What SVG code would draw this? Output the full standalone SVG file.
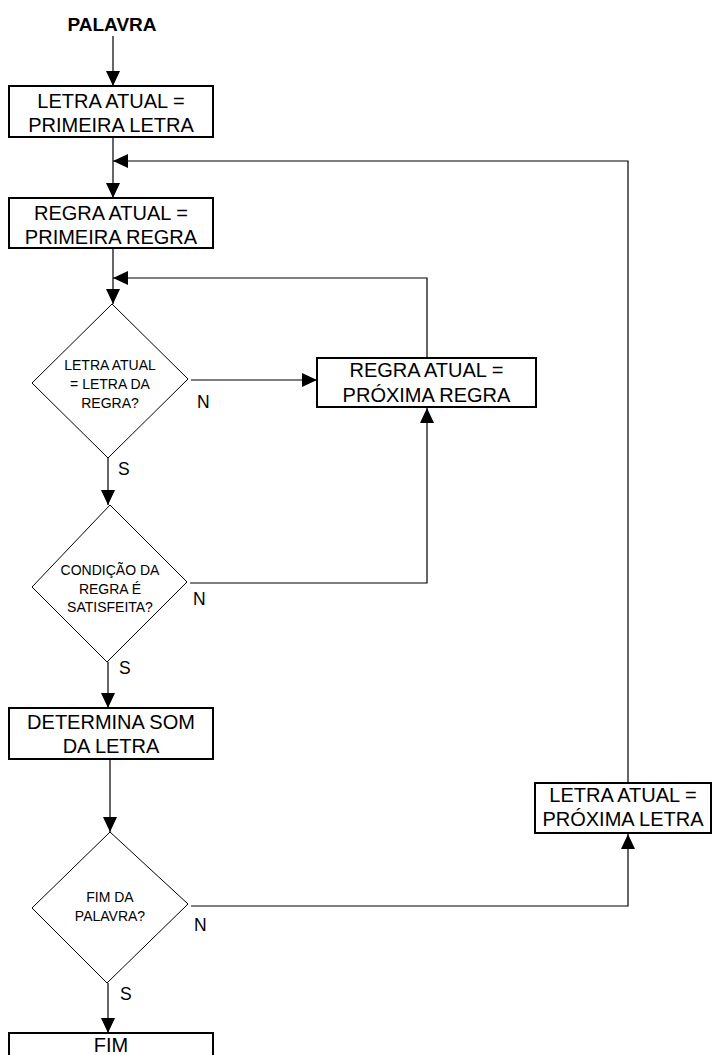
<svg xmlns="http://www.w3.org/2000/svg" width="713" height="1055" viewBox="0 0 713 1055">
<style>
.box{fill:#fff;stroke:#000;stroke-width:2}
.dia{fill:#fff;stroke:#000;stroke-width:1}
.ln{fill:none;stroke:#000;stroke-width:1.2}
.bt{font-family:"Liberation Sans",Arial,sans-serif;font-size:20px;text-anchor:middle;fill:#000}
.dt{font-family:"Liberation Sans",Arial,sans-serif;font-size:14px;text-anchor:middle;fill:#000}
.lb{font-family:"Liberation Sans",Arial,sans-serif;font-size:17.5px;fill:#000}
.tt{font-family:"Liberation Sans",Arial,sans-serif;font-size:19px;font-weight:bold;text-anchor:middle;fill:#000}
</style>
<defs>
<marker id="ah" markerUnits="userSpaceOnUse" markerWidth="15" markerHeight="14" refX="15" refY="7" orient="auto">
<path d="M0,0 L15,7 L0,14 z" fill="#000"/>
</marker>
</defs>
<g id="connectors">
<path class="ln" d="M113,36 V86" marker-end="url(#ah)"/>
<path class="ln" d="M113,137 V198" marker-end="url(#ah)"/>
<path class="ln" d="M628,783 V161 H113" marker-end="url(#ah)"/>
<path class="ln" d="M113,248 V304" marker-end="url(#ah)"/>
<path class="ln" d="M427,358 V278 H113" marker-end="url(#ah)"/>
<path class="ln" d="M191,380 H317" marker-end="url(#ah)"/>
<path class="ln" d="M108,458 V505" marker-end="url(#ah)"/>
<path class="ln" d="M190,583 H427 V408" marker-end="url(#ah)"/>
<path class="ln" d="M108,662 V708" marker-end="url(#ah)"/>
<path class="ln" d="M110,759 V832" marker-end="url(#ah)"/>
<path class="ln" d="M191,906 H628 V834" marker-end="url(#ah)"/>
<path class="ln" d="M108,983 V1033" marker-end="url(#ah)"/>
</g>
<g id="start"><text class="tt" x="112" y="31">PALAVRA</text></g>
<g id="box1"><rect class="box" x="9" y="86" width="204" height="51"/>
<text class="bt" x="111" y="108">LETRA ATUAL =</text><text class="bt" x="111" y="132">PRIMEIRA LETRA</text></g>
<g id="box2"><rect class="box" x="9" y="198" width="204" height="50"/>
<text class="bt" x="111" y="220">REGRA ATUAL =</text><text class="bt" x="111" y="244">PRIMEIRA REGRA</text></g>
<g id="dec1"><polygon class="dia" points="112,304 188,379 108,458 32,383"/>
<text class="dt" x="110" y="370">LETRA ATUAL</text><text class="dt" x="110" y="389">= LETRA DA</text><text class="dt" x="110" y="408">REGRA?</text>
<text class="lb" x="197" y="408">N</text><text class="lb" x="118" y="475">S</text></g>
<g id="box3"><rect class="box" x="317" y="358" width="219" height="49"/>
<text class="bt" x="426.5" y="377">REGRA ATUAL =</text><text class="bt" x="426.5" y="402">PRÓXIMA REGRA</text></g>
<g id="dec2"><polygon class="dia" points="110,505 187,582 107,662 32,587"/>
<text class="dt" x="110" y="575">CONDIÇÃO DA</text><text class="dt" x="110" y="594">REGRA É</text><text class="dt" x="110" y="612">SATISFEITA?</text>
<text class="lb" x="193" y="605">N</text><text class="lb" x="119" y="674">S</text></g>
<g id="box4"><rect class="box" x="9" y="708" width="204" height="51"/>
<text class="bt" x="111" y="729">DETERMINA SOM</text><text class="bt" x="111" y="753">DA LETRA</text></g>
<g id="dec3"><polygon class="dia" points="110,832 188,904 107,983 32,908"/>
<text class="dt" x="110" y="902">FIM DA</text><text class="dt" x="110" y="921">PALAVRA?</text>
<text class="lb" x="194" y="931">N</text><text class="lb" x="120" y="1000">S</text></g>
<g id="box5"><rect class="box" x="535" y="783" width="176" height="50"/>
<text class="bt" x="623" y="802">LETRA ATUAL =</text><text class="bt" x="623" y="826">PRÓXIMA LETRA</text></g>
<g id="end"><rect class="box" x="9" y="1033" width="204" height="40"/>
<text class="bt" x="111" y="1052">FIM</text></g>
</svg>
